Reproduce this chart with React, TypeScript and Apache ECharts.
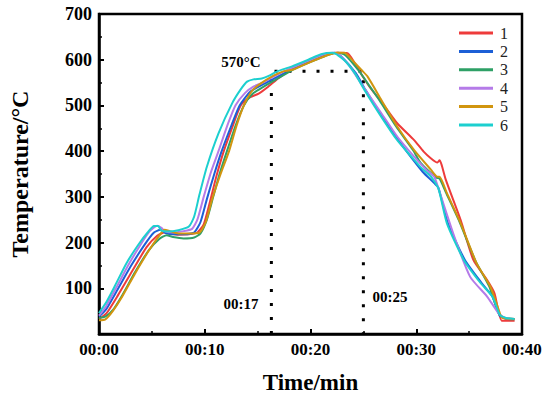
import React, { useEffect, useRef } from "react";
import * as echarts from "echarts";

const seriesNames = ["1", "2", "3", "4", "5", "6"];
const seriesColors = ["#ee3b3b", "#1c5fd6", "#2ea066", "#b57be8", "#d1950f", "#1ccfcf"];

const s1: number[][] = [[0,33],[0.7,45],[1.8,85],[3.2,140],[4.5,190],[5.5,215],[6.2,222],[6.7,220],[7.5,217],[8.5,218],[9.3,222],[9.9,240],[10.5,290],[11.1,345],[11.8,400],[12.6,452],[13.4,500],[14.3,518],[15.1,526],[16,541],[17,560],[18.5,585],[20,600],[21.3,610],[22.5,615],[23.5,614],[24.2,592],[24.9,565],[25.7,537],[26.7,508],[28.2,461],[29.8,424],[30.7,399],[31.4,384],[32,375],[32.2,380],[32.4,370],[32.8,337],[34.2,249],[35.4,162],[36.7,118],[37.4,89],[38.1,29],[39.3,29]];
const s2: number[][] = [[0,38],[0.7,55],[1.7,95],[3,148],[4.3,195],[5.2,222],[5.8,228],[6.3,221],[7,218],[8,218],[9,222],[9.6,245],[10.2,295],[10.9,350],[11.6,400],[12.5,455],[13.3,500],[14.3,530],[15.5,546],[16.5,558],[17.5,570],[19,587],[20.3,600],[21.5,611],[22.3,615],[23,605],[24.3,570],[25.2,534],[26.8,475],[28.3,424],[29.8,378],[30.6,355],[31.7,330],[32.1,320],[33,242],[34.6,162],[36.2,111],[37.2,82],[37.9,40],[38.5,34],[39.3,33]];
const s3: number[][] = [[0,35],[0.6,38],[1.3,52],[2.2,85],[3.4,135],[4.7,183],[5.7,208],[6.4,216],[7,212],[8,209],[9,211],[9.6,220],[10.2,250],[10.8,300],[11.4,350],[12.1,400],[12.9,455],[13.7,500],[14.5,525],[15.5,540],[17,560],[18.5,580],[20.5,600],[21.7,611],[22.6,615],[23.3,610],[24.6,575],[25.5,545],[26.5,512],[28.1,454],[29.7,402],[30.4,375],[31.9,342],[32.2,340],[32.8,310],[34.1,245],[35.6,160],[36.9,104],[37.8,45],[38.5,33],[39.3,32]];
const s4: number[][] = [[0,40],[0.7,62],[1.6,100],[2.8,152],[4,198],[4.8,225],[5.5,237],[5.9,232],[6.3,224],[7,222],[8,225],[8.8,230],[9.3,250],[9.9,300],[10.6,355],[11.3,400],[12.2,460],[12.9,500],[13.8,527],[14.6,541],[15.5,550],[16.5,563],[18,580],[20,600],[21.3,612],[22.3,615],[23,605],[23.85,581],[25,540],[26.7,483],[28.2,432],[29.8,388],[31,358],[31.7,344],[32.1,318],[33.6,213],[35.1,125],[36.7,82],[37.8,45],[38.4,35],[39.3,33]];
const s5: number[][] = [[0,30],[0.6,32],[1.3,50],[2.2,82],[3.4,132],[4.7,182],[5.7,215],[6.2,228],[6.7,225],[7.5,220],[8.5,220],[9.5,222],[10.1,245],[10.7,295],[11.5,350],[12.3,400],[13,455],[13.7,500],[14.4,530],[15.1,545],[16.5,565],[17.5,575],[18.3,578],[19,585],[20.5,600],[21.7,611],[22.5,615],[23.2,615],[23.8,603],[24.8,578],[25.4,563],[26.7,512],[28.2,454],[29.8,402],[31.4,359],[32,344],[32.2,344],[32.9,308],[34.2,242],[35.7,155],[37,104],[37.8,53],[38.1,36],[39.3,33]];
const s6: number[][] = [[0,46],[0.7,70],[1.5,105],[2.6,155],[3.8,198],[4.6,222],[5.2,236],[5.6,236],[5.9,226],[6.5,224],[7.5,227],[8.5,235],[9,257],[9.5,305],[10.2,366],[11.3,439],[12.6,505],[13.4,535],[14,552],[14.6,557],[15.4,559],[16.1,565],[16.8,574],[18.2,585],[19.8,600],[21,612],[22.1,615],[23.2,599],[24.2,570],[25.1,534],[26.7,475],[28.2,424],[29.8,381],[30.4,365],[31.4,344],[32.1,318],[32.9,242],[34.5,162],[36.1,111],[37.2,82],[37.9,42],[38.5,35],[39.3,33]];
const allSeries = [s1, s2, s3, s4, s5, s6];

const guideLine: number[][] = [[16.3, 0], [16.3, 575], [25, 575], [25, 0]];

const xTicks = [0, 10, 20, 30, 40];
const yTicks = [0, 100, 200, 300, 400, 500, 600, 700];

const annotations = [
  { text: "570°C", x: 241, y: 62 },
  { text: "00:17", x: 241, y: 304 },
  { text: "00:25", x: 390, y: 297 },
];

const FONT = "'Liberation Serif', 'Times New Roman', serif";

function fmtTime(v: number): string {
  const m = Math.round(v);
  return "00:" + (m < 10 ? "0" + m : String(m));
}

export default function App() {
  const ref = useRef<HTMLDivElement>(null);
  useEffect(() => {
    if (!ref.current) return;
    const chart = echarts.init(ref.current, undefined, { renderer: "svg" });
    const lines = allSeries.map((d, i) => ({
      name: seriesNames[i],
      type: "line",
      data: d,
      symbol: "none",
      smooth: 0.2,
      lineStyle: { width: 2, color: seriesColors[i] },
      itemStyle: { color: seriesColors[i] },
      z: 3 + i,
    }));
    chart.setOption({
      animation: false,
      backgroundColor: "#ffffff",
      grid: {
        left: 96,
        right: 28,
        top: 14,
        bottom: 67,
        show: true,
        borderColor: "#000",
        borderWidth: 2.5,
        backgroundColor: "transparent",
      },
      legend: {
        data: seriesNames,
        orient: "vertical",
        left: 454,
        top: 20,
        icon: "rect",
        itemWidth: 34,
        itemHeight: 3,
        itemGap: 2.4,
        textStyle: { fontFamily: FONT, fontSize: 16, color: "#222", lineHeight: 15, padding: [0, 0, 0, 2] },
      },
      xAxis: {
        type: "value",
        min: xTicks[0],
        max: xTicks[xTicks.length - 1],
        interval: 10,
        name: "Time/min",
        nameLocation: "middle",
        nameGap: 37,
        nameTextStyle: { fontFamily: FONT, fontSize: 23, fontWeight: "bold", color: "#000" },
        axisLine: { show: true, lineStyle: { color: "#000", width: 2.5 } },
        axisTick: { show: true, inside: true, length: 5, lineStyle: { color: "#000", width: 2 } },
        minorTick: { show: true, splitNumber: 2, length: 3, lineStyle: { color: "#000", width: 1.5 } },
        splitLine: { show: false },
        axisLabel: {
          fontFamily: FONT,
          fontSize: 17,
          fontWeight: "bold",
          color: "#000",
          margin: 7,
          formatter: (v: number) => fmtTime(v),
        },
      },
      yAxis: {
        type: "value",
        min: yTicks[0],
        max: yTicks[yTicks.length - 1],
        interval: 100,
        name: "Temperature/°C",
        nameLocation: "middle",
        nameGap: 67,
        nameTextStyle: { fontFamily: FONT, fontSize: 24, fontWeight: "bold", color: "#000" },
        axisLine: { show: true, lineStyle: { color: "#000", width: 2.5 } },
        axisTick: { show: true, inside: true, length: 5, lineStyle: { color: "#000", width: 2 } },
        minorTick: { show: true, splitNumber: 2, length: 3, lineStyle: { color: "#000", width: 1.5 } },
        splitLine: { show: false },
        axisLabel: {
          fontFamily: FONT,
          fontSize: 18,
          fontWeight: "bold",
          color: "#000",
          margin: 7,
          formatter: (v: number) => (v === 0 ? "" : String(v)),
        },
      },
      series: [
        {
          name: "guide",
          type: "line",
          data: guideLine,
          symbol: "none",
          silent: true,
          lineStyle: { color: "#000", width: 3, type: [3, 11] },
          z: 2,
        },
        ...lines,
      ],
      graphic: annotations.map((a) => ({
        type: "text",
        x: a.x,
        y: a.y,
        style: {
          text: a.text,
          fontFamily: FONT,
          fontSize: 15,
          fontWeight: "bold",
          fill: "#000",
          align: "center",
          verticalAlign: "middle",
        },
        z: 10,
      })),
    });
    return () => chart.dispose();
  }, []);
  return (
    <div
      ref={ref}
      style={{ position: "absolute", left: 0, top: 0, width: 550, height: 401 }}
    />
  );
}
